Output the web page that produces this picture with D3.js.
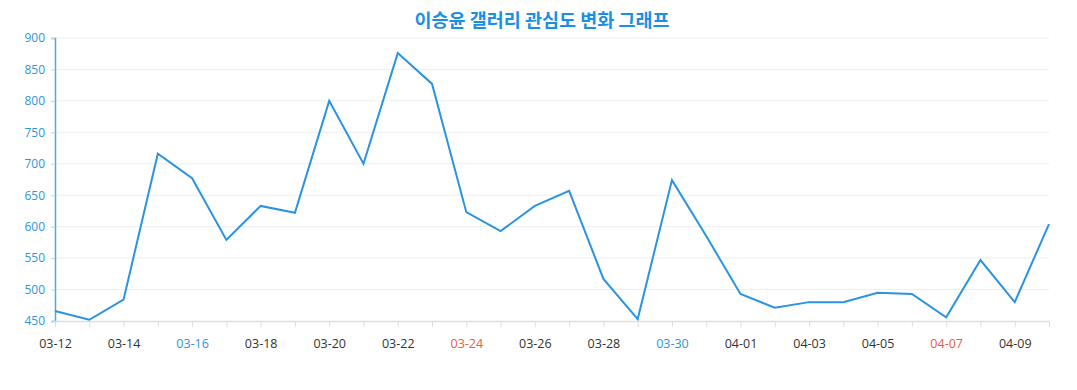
<!DOCTYPE html>
<html><head><meta charset="utf-8">
<script src="https://cdn.jsdelivr.net/npm/d3@7"></script>
<style>
body{margin:0;background:#fff;}
svg{display:block;font-family:"Open Sans","Noto Sans",sans-serif;}
</style></head>
<body><svg id="c" width="1077" height="390"></svg>
<script>
const title = "이승윤 갤러리 관심도 변화 그래프";
const dates = ["03-12","03-13","03-14","03-15","03-16","03-17","03-18","03-19","03-20","03-21","03-22","03-23","03-24","03-25","03-26","03-27","03-28","03-29","03-30","03-31","04-01","04-02","04-03","04-04","04-05","04-06","04-07","04-08","04-09","04-10"];
const values = [466,452,484,716,677,579,633,622,800,700,876,827,623,593,633,657,517,453,674,585,493,471,480,480,495,493,456,547,480,604];
const yTicks = [450,500,550,600,650,700,750,800,850,900];
const saturdays = ["03-16","03-23","03-30","04-06"];
const sundays = ["03-17","03-24","03-31","04-07"];

const svg = d3.select("#c");
const m = {l:55, r:28, t:38, b:69};
const W = 1077, H = 390;
const x = d3.scalePoint().domain(dates).range([m.l, W - m.r]);
const y = d3.scaleLinear().domain([450, 900]).range([H - m.b, m.t]);

svg.append("text").attr("x", 542).attr("y", 27).attr("text-anchor", "middle")
  .attr("font-family", "'Noto Sans CJK KR','Noto Sans',sans-serif")
  .attr("font-weight", "bold").attr("font-size", 18.5).attr("fill", "#1a8fe6").text(title);

// grid
svg.append("g").selectAll("line").data(yTicks.slice(1)).join("line")
  .attr("x1", m.l).attr("x2", W - m.r).attr("y1", d => y(d)).attr("y2", d => y(d))
  .attr("stroke", "#eeeeee").attr("stroke-width", 1);

// y axis
const ya = svg.append("g").attr("transform", `translate(${m.l},0)`)
  .call(d3.axisLeft(y).tickValues(yTicks).tickSize(4).tickPadding(6));
ya.select(".domain").attr("stroke", "#54a6e0").attr("stroke-width", 1.5);
ya.selectAll(".tick line").attr("stroke", "#cfcfcf");
ya.selectAll(".tick text").attr("fill", "#2e95d8").attr("font-size", 12)
  .attr("font-family", "'Open Sans',sans-serif");

// x axis
const xa = svg.append("g").attr("transform", `translate(0,${H - m.b})`)
  .call(d3.axisBottom(x).tickSize(6).tickPadding(12)
    .tickFormat((d, i) => i % 2 === 0 ? d : ""));
xa.select(".domain").attr("stroke", "#dedede").attr("stroke-width", 1.5)
  .attr("d", `M${m.l},0.5H${W - m.r}`);
xa.selectAll(".tick line").attr("stroke", "#dedede");
xa.selectAll(".tick text").attr("font-size", 12.5).attr("font-family", "'Open Sans',sans-serif")
  .attr("fill", d => saturdays.includes(d) ? "#2e95d8" : sundays.includes(d) ? "#e0603f" : "#333333");

// line
svg.append("path").datum(values)
  .attr("fill", "none").attr("stroke", "#2a93e2").attr("stroke-width", 2)
  .attr("stroke-linejoin", "miter")
  .attr("d", d3.line().x((d, i) => x(dates[i])).y(d => y(d)));
</script></body></html>
